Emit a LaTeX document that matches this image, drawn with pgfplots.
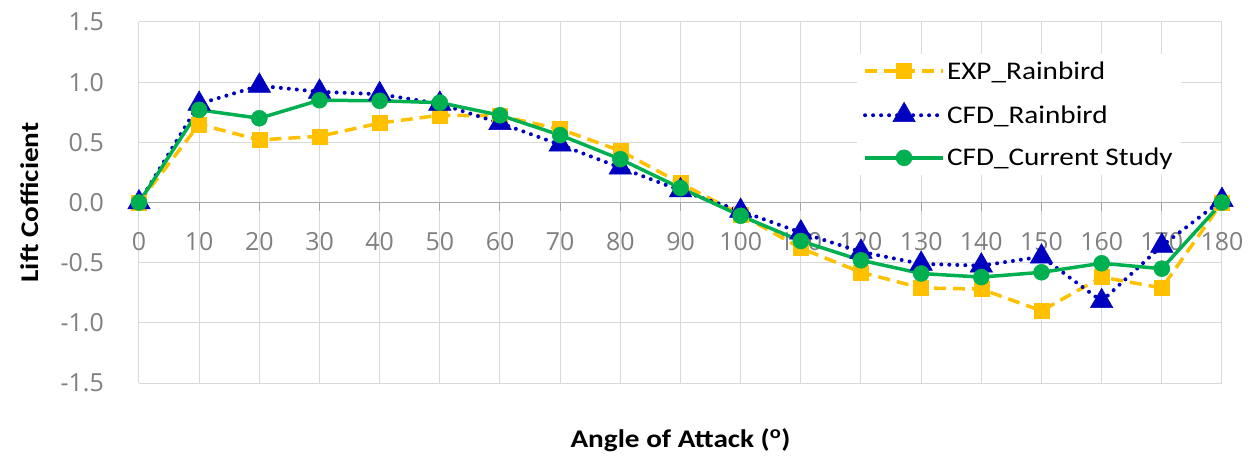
\documentclass[border=0pt]{standalone}
\usepackage{fontspec}
\setmainfont{Carlito}[FakeStretch=1.15]
\newfontfamily\tickfont{Open Sans}
\usepackage{pgfplots}
\pgfplotsset{compat=1.18}
\definecolor{cexp}{HTML}{FFC000}
\definecolor{ccfd}{HTML}{0000C0}
\definecolor{ccur}{HTML}{00B050}
\definecolor{gridc}{HTML}{D9D9D9}
\definecolor{tickc}{HTML}{7F7F7F}
\definecolor{axc}{HTML}{A6A6A6}
\begin{document}
\begin{tikzpicture}
\begin{axis}[
  scale only axis, width=1083bp, height=361bp,
  xmin=0, xmax=180, ymin=-1.5, ymax=1.5,
  xtick={0,10,...,180}, ytick={-1.5,-1,-0.5,0,0.5,1,1.5},
  yticklabels={-1.5,-1.0,-0.5,0.0,0.5,1.0,1.5},
  /pgf/number format/assume math mode=true,
  hide obscured x ticks=false,
  axis x line=middle, axis y line=left,
  axis line style={-},
  x axis line style={draw=axc, line width=1bp},
  y axis line style={draw=gridc, line width=1bp},
  grid=major, major grid style={draw=gridc, line width=1bp},
  tick align=outside, major tick length=8bp,
  xtick style={draw=axc, line width=1bp},
  ytick style={draw=none},
  tick label style={font=\tickfont\fontsize{25}{30}\selectfont, text=tickc},
  xticklabel style={anchor=north, inner sep=0pt, yshift=-22bp},
  yticklabel style={anchor=east, inner sep=0pt, xshift=-27bp},
  xlabel={Angle of Attack (\textsuperscript{o})},
  ylabel={Lift Cofficient},
  label style={font=\fontsize{25.5}{30}\selectfont\bfseries},
  xlabel style={at={(axis description cs:0.5,-0.158)}, anchor=center},
  ylabel style={at={(axis description cs:-0.1006,0.5)}, anchor=center},
  clip=false,
  legend style={at={(axis description cs:0.962,0.913)}, anchor=north east, draw=none, fill=white,
    font=\fontsize{25.5}{30}\selectfont, row sep=19.5bp, inner sep=6bp},
  legend cell align=left,
  legend image code/.code={\draw[mark repeat=2, mark phase=2] plot coordinates {(0bp,0bp) (39bp,0bp) (78bp,0bp)};},
]
\addplot[cexp, line width=3.5bp, dash pattern=on 12bp off 7bp, mark=square*, mark size=7.5bp, mark options={solid, line width=0.5bp}]
  coordinates {(0,0)(10,0.65)(20,0.52)(30,0.55)(40,0.66)(50,0.725)(60,0.72)(70,0.61)(80,0.43)(90,0.16)(100,-0.1)(110,-0.38)(120,-0.58)(130,-0.71)(140,-0.72)(150,-0.9)(160,-0.62)(170,-0.71)(180,0)};
\addlegendentry{EXP\_Rainbird}
\addplot[ccfd, line width=4bp, line cap=round, dash pattern=on 0bp off 8bp, mark=triangle*, mark size=13bp, mark options={solid, line width=0.5bp}]
  coordinates {(0,0)(10,0.82)(20,0.97)(30,0.92)(40,0.9)(50,0.82)(60,0.66)(70,0.48)(80,0.29)(90,0.1)(100,-0.07)(110,-0.25)(120,-0.41)(130,-0.51)(140,-0.525)(150,-0.45)(160,-0.82)(170,-0.36)(180,0.02)};
\addlegendentry{CFD\_Rainbird}
\addplot[ccur, line width=3.5bp, mark=*, mark size=8bp, mark options={line width=0.5bp}]
  coordinates {(0,0)(10,0.77)(20,0.70)(30,0.85)(40,0.845)(50,0.83)(60,0.725)(70,0.56)(80,0.36)(90,0.12)(100,-0.11)(110,-0.32)(120,-0.48)(130,-0.59)(140,-0.62)(150,-0.58)(160,-0.505)(170,-0.55)(180,0)};
\addlegendentry{CFD\_Current Study}
\end{axis}
\pgfresetboundingbox
\path[use as bounding box] (-139bp,-78bp) rectangle (1119bp,383bp);
\end{tikzpicture}
\end{document}
